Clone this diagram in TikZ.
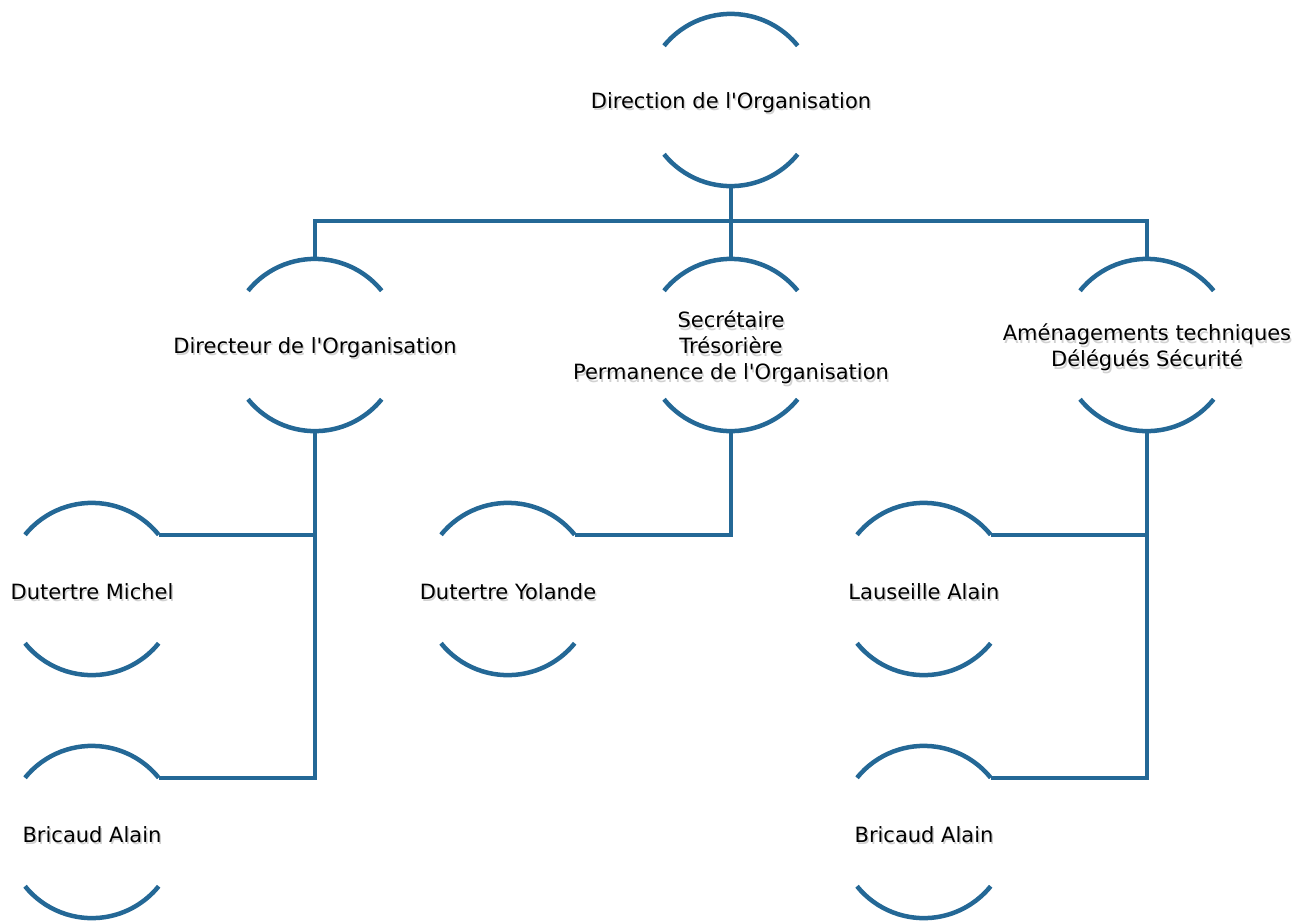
\documentclass[tikz,border=0pt]{standalone}
\usepackage{fontspec}
\setmainfont{DejaVu Sans}
\definecolor{orgblue}{RGB}{36,104,150}
\tikzset{
  x=1pt, y=1pt,
  conn/.style={draw=orgblue, line width=4.5pt},
  arcline/.style={draw=orgblue, line width=4.5pt},
  orgnode/.style={circle, minimum size=172pt, inner sep=0pt},
  txt/.style={font=\fontsize{21}{26}\selectfont, align=center, text=black, yshift=-2.5pt},
  shadowtxt/.style={font=\fontsize{21}{26}\selectfont, align=center, text=black!18, xshift=1.5pt, yshift=-5pt},
  lbl/.style={label={[shadowtxt]center:#1}, label={[txt]center:#1}},
}
\newcommand{\orgarcs}[1]{%
  \draw[arcline] (#1.141) arc[start angle=141, end angle=39, radius=86pt];
  \draw[arcline] (#1.219) arc[start angle=219, end angle=321, radius=86pt];
}
\newcommand{\apo}{\textquotesingle}
\begin{document}
\begin{tikzpicture}
\useasboundingbox (0,0) rectangle (1312,-922);
% nodes
\node[orgnode, lbl={Direction de l\apo Organisation}] (root) at (731,-100) {};
\node[orgnode, lbl={Directeur de l\apo Organisation}] (dir) at (315,-345) {};
\node[orgnode, lbl={Secrétaire\\Trésorière\\Permanence de l\apo Organisation}] (sec) at (731,-345) {};
\node[orgnode, lbl={Aménagements techniques\\Délégués Sécurité}] (amen) at (1147,-345) {};
\node[orgnode, lbl={Dutertre Michel}] (michel) at (92,-589) {};
\node[orgnode, lbl={Bricaud Alain}] (bricA) at (92,-832) {};
\node[orgnode, lbl={Dutertre Yolande}] (yolande) at (508,-589) {};
\node[orgnode, lbl={Lauseille Alain}] (lauseille) at (924,-589) {};
\node[orgnode, lbl={Bricaud Alain}] (bricB) at (924,-832) {};
% arcs
\orgarcs{root}
\orgarcs{dir}
\orgarcs{sec}
\orgarcs{amen}
\orgarcs{michel}
\orgarcs{bricA}
\orgarcs{yolande}
\orgarcs{lauseille}
\orgarcs{bricB}
% connectors
\coordinate (bus) at (731,-221);
\draw[conn] (root.south) -- (bus);
\draw[conn] (dir.north) -- (dir.north |- bus) -- (amen.north |- bus) -- (amen.north);
\draw[conn] (bus) -- (sec.north);
\draw[conn] (dir.south) -- (dir.south |- bricA.39) -- (bricA.39);
\draw[conn] (michel.39) -- (michel.39 -| dir.south);
\draw[conn] (sec.south) -- (sec.south |- yolande.39) -- (yolande.39);
\draw[conn] (amen.south) -- (amen.south |- bricB.39) -- (bricB.39);
\draw[conn] (lauseille.39) -- (lauseille.39 -| amen.south);
\end{tikzpicture}
\end{document}
